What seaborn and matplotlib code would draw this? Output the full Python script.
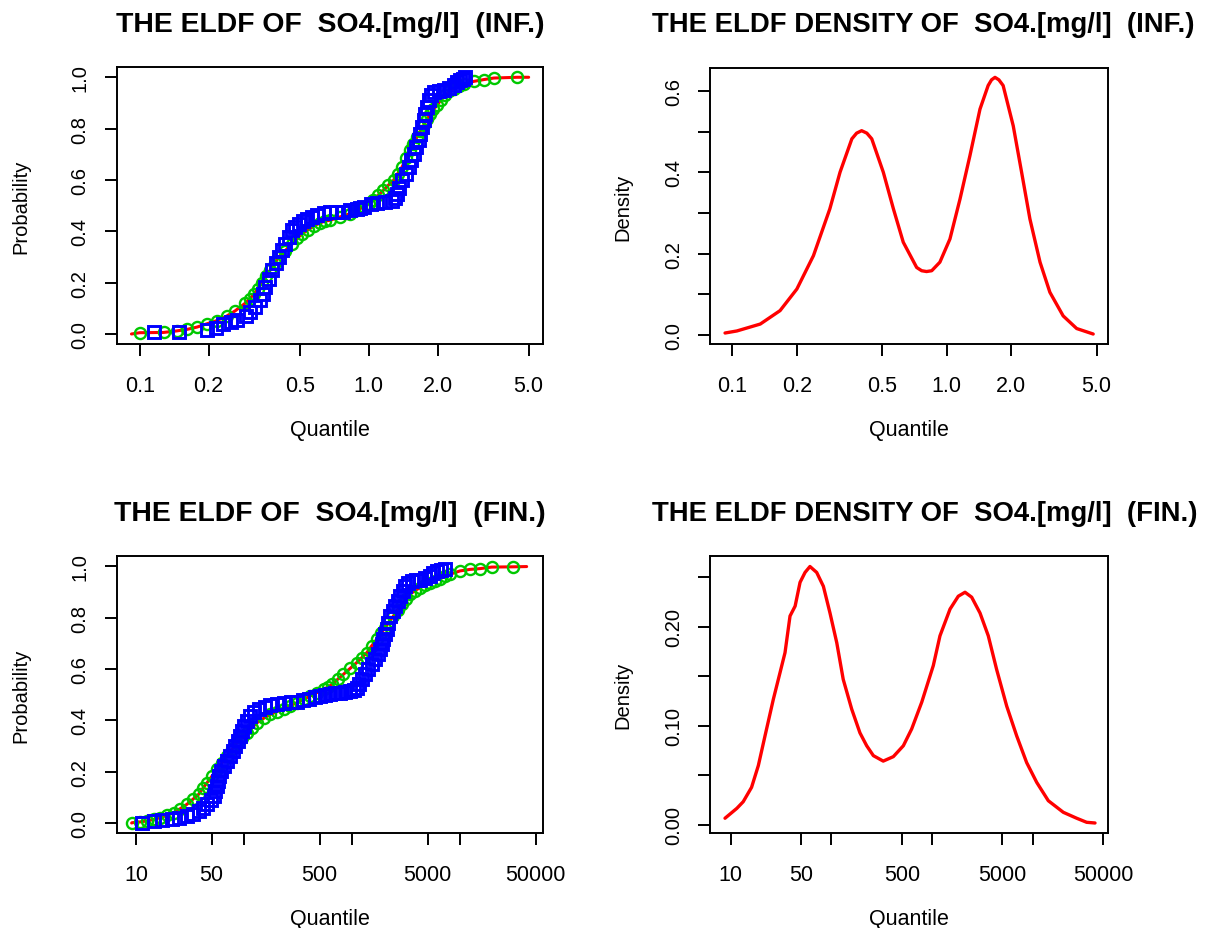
import matplotlib
matplotlib.use("Agg")
import matplotlib.pyplot as plt
from matplotlib.ticker import NullLocator, FixedLocator, FixedFormatter
import seaborn as sns
import pandas as pd

# ---------------- data ----------------
# INF: empirical points (blue squares)
inf_blue_q = [0.115, 0.148, 0.196, 0.215, 0.232, 0.250, 0.266, 0.290, 0.304, 0.320,
              0.336, 0.345, 0.354, 0.366, 0.379, 0.392, 0.405, 0.419, 0.433, 0.448,
              0.463, 0.478, 0.495, 0.515, 0.539, 0.565, 0.595, 0.640, 0.681, 0.720,
              0.776, 0.830, 0.889, 0.920, 0.951, 1.020, 1.087, 1.180, 1.265, 1.300,
              1.331, 1.360, 1.400, 1.450, 1.497, 1.535, 1.574, 1.615, 1.653, 1.682,
              1.711, 1.740, 1.770, 1.800, 1.829, 1.870, 1.924, 2.020, 2.128, 2.240,
              2.354, 2.440, 2.518, 2.580, 2.649]
inf_blue_p = [0.008, 0.008, 0.014, 0.025, 0.038, 0.047, 0.056, 0.070, 0.086, 0.105,
              0.131, 0.155, 0.183, 0.215, 0.248, 0.275, 0.300, 0.326, 0.352, 0.378,
              0.404, 0.418, 0.430, 0.440, 0.449, 0.455, 0.462, 0.470, 0.475, 0.476,
              0.475, 0.482, 0.488, 0.490, 0.495, 0.505, 0.511, 0.515, 0.517, 0.530,
              0.546, 0.570, 0.599, 0.625, 0.650, 0.676, 0.702, 0.729, 0.755, 0.780,
              0.806, 0.832, 0.858, 0.884, 0.910, 0.930, 0.943, 0.946, 0.949, 0.960,
              0.969, 0.980, 0.988, 0.994, 1.000]
# INF: fitted CDF points (green circles)
inf_green_q = [0.100, 0.127, 0.145, 0.161, 0.178, 0.197, 0.217, 0.240, 0.261, 0.289,
               0.302, 0.315, 0.328, 0.342, 0.357, 0.372, 0.388, 0.405, 0.432, 0.463,
               0.487, 0.512, 0.543, 0.575, 0.610, 0.647, 0.679, 0.750, 0.830, 0.890,
               0.951, 1.000, 1.049, 1.100, 1.161, 1.220, 1.285, 1.340, 1.400, 1.460,
               1.521, 1.570, 1.626, 1.680, 1.738, 1.800, 1.862, 1.920, 1.991, 2.070,
               2.163, 2.250, 2.355, 2.480, 2.606, 2.877, 3.184, 3.524, 4.457]
inf_green_p = [0.005, 0.006, 0.012, 0.018, 0.027, 0.040, 0.052, 0.070, 0.090, 0.120,
               0.137, 0.155, 0.177, 0.200, 0.225, 0.250, 0.275, 0.300, 0.325, 0.350,
               0.372, 0.390, 0.406, 0.420, 0.432, 0.440, 0.443, 0.456, 0.469, 0.482,
               0.495, 0.508, 0.521, 0.540, 0.560, 0.580, 0.599, 0.625, 0.651, 0.684,
               0.716, 0.742, 0.767, 0.790, 0.813, 0.836, 0.858, 0.875, 0.891, 0.912,
               0.930, 0.945, 0.956, 0.967, 0.975, 0.984, 0.991, 0.997, 1.000]
inf_red_ends_q = [0.092, 5.0]
inf_red_ends_p = [0.0, 1.0]

# INF: density
inf_dens_q = [0.0925, 0.105, 0.135, 0.167, 0.200, 0.239, 0.285, 0.318, 0.361, 0.380,
              0.401, 0.424, 0.447, 0.506, 0.564, 0.627, 0.724, 0.764, 0.805, 0.851,
              0.929, 1.035, 1.153, 1.282, 1.429, 1.560, 1.618, 1.679, 1.750, 1.832,
              2.042, 2.234, 2.443, 2.723, 3.027, 3.491, 4.036, 4.819]
inf_dens = [0.005, 0.010, 0.027, 0.060, 0.113, 0.195, 0.310, 0.400, 0.482, 0.496,
            0.502, 0.496, 0.482, 0.400, 0.310, 0.228, 0.166, 0.158, 0.156, 0.158,
            0.179, 0.236, 0.334, 0.440, 0.555, 0.613, 0.627, 0.633, 0.627, 0.613,
            0.514, 0.400, 0.285, 0.179, 0.105, 0.047, 0.016, 0.0025]

# FIN: empirical points (blue squares)
fin_blue_q = [11.4, 14.8, 17.5, 21.5, 25.0, 29.6, 33.5, 38.0, 41.5, 45.4,
              49.0, 52.3, 54.0, 56.1, 57.0, 58.2, 61.0, 64.7, 69.0, 74.5,
              78.5, 83.0, 87.5, 92.3, 95.5, 99.1, 106, 114, 124, 136,
              155, 175, 200, 232, 270, 308, 350, 396, 450, 507,
              565, 624, 690, 771, 860, 955, 1030, 1101, 1160, 1224,
              1310, 1410, 1515, 1625, 1715, 1808, 1875, 1941, 2010, 2085,
              2160, 2238, 2360, 2489, 2625, 2768, 2920, 3079, 3300, 3550,
              3900, 4240, 4740, 5245, 5650, 6050, 6630, 7218]
fin_blue_p = [0.001, 0.008, 0.010, 0.014, 0.020, 0.027, 0.036, 0.047, 0.060, 0.073,
              0.089, 0.105, 0.125, 0.144, 0.163, 0.183, 0.202, 0.222, 0.241, 0.261,
              0.280, 0.300, 0.320, 0.339, 0.358, 0.378, 0.398, 0.417, 0.432, 0.443,
              0.451, 0.458, 0.462, 0.466, 0.470, 0.473, 0.478, 0.484, 0.490, 0.495,
              0.498, 0.501, 0.505, 0.508, 0.511, 0.514, 0.520, 0.527, 0.543, 0.560,
              0.580, 0.599, 0.618, 0.638, 0.657, 0.677, 0.697, 0.716, 0.735, 0.755,
              0.780, 0.806, 0.826, 0.845, 0.865, 0.884, 0.903, 0.923, 0.935, 0.943,
              0.945, 0.947, 0.955, 0.962, 0.972, 0.982, 0.987, 0.991]
# FIN: fitted CDF points (green circles)
fin_green_q = [9.18, 10.8, 12.6, 14.6, 16.8, 19.4, 22.3, 25.7, 29.6, 33.5,
               38.0, 41.5, 45.4, 50.5, 56.1, 62.5, 69.5, 77.3, 85.9, 95.5,
               106, 119, 132, 152, 175, 202, 232, 268, 308, 355,
               410, 473, 544, 597, 650, 735, 828, 955, 1101, 1225,
               1362, 1515, 1686, 1850, 2011, 2200, 2401, 2630, 2868, 3130,
               3426, 3800, 4240, 4720, 5245, 5830, 6490, 7220, 8030, 9930,
               12300, 15210, 19500, 30900]
fin_green_p = [0.001, 0.004, 0.008, 0.014, 0.021, 0.030, 0.040, 0.056, 0.073, 0.092,
               0.112, 0.135, 0.157, 0.183, 0.209, 0.235, 0.261, 0.287, 0.313, 0.333,
               0.352, 0.372, 0.391, 0.408, 0.423, 0.434, 0.445, 0.457, 0.469, 0.482,
               0.495, 0.508, 0.521, 0.530, 0.540, 0.560, 0.579, 0.602, 0.625, 0.644,
               0.663, 0.690, 0.716, 0.739, 0.761, 0.784, 0.806, 0.830, 0.852, 0.872,
               0.891, 0.905, 0.917, 0.927, 0.936, 0.944, 0.952, 0.961, 0.969, 0.982,
               0.988, 0.991, 0.997, 0.998]
fin_red_ends_q = [9.1, 41100]
fin_red_ends_p = [0.0, 0.999]

# FIN: density
fin_dens_q = [8.77, 11.5, 13.3, 16.1, 18.8, 21.9, 26.5, 30.9, 34.6, 38.8,
              43.6, 48.8, 54.7, 61.2, 71.4, 83.2, 96.8, 113, 131, 159,
              192, 224, 261, 327, 412, 518, 627, 789, 1028, 1197,
              1507, 1820, 2123, 2472, 2992, 3614, 4375, 5508, 6918, 8690,
              10940, 14260, 20090, 27290, 34280, 41500]
fin_dens = [0.0068, 0.0168, 0.0235, 0.038, 0.060, 0.090, 0.127, 0.154, 0.174, 0.211,
            0.221, 0.245, 0.255, 0.261, 0.255, 0.241, 0.214, 0.184, 0.147, 0.117,
            0.093, 0.080, 0.070, 0.0645, 0.069, 0.080, 0.097, 0.124, 0.161, 0.191,
            0.218, 0.231, 0.235, 0.230, 0.214, 0.191, 0.157, 0.120, 0.090, 0.063,
            0.043, 0.0245, 0.0128, 0.0068, 0.0027, 0.002]

# tick labels
inf_xticks = [0.1, 0.2, 0.5, 1.0, 2.0, 5.0]
inf_xlabels = ["0.1", "0.2", "0.5", "1.0", "2.0", "5.0"]
fin_xticks = [10, 50, 100, 500, 1000, 5000, 10000, 50000]
fin_xlabels = ["10", "50", "", "500", "", "5000", "", "50000"]
prob_ticks = [0.0, 0.2, 0.4, 0.6, 0.8, 1.0]
prob_labels = ["0.0", "0.2", "0.4", "0.6", "0.8", "1.0"]
inf_dticks = [0.0, 0.1, 0.2, 0.3, 0.4, 0.5, 0.6]
inf_dlabels = ["0.0", "", "0.2", "", "0.4", "", "0.6"]
fin_dticks = [0.0, 0.05, 0.10, 0.15, 0.20, 0.25]
fin_dlabels = ["0.00", "", "0.10", "", "0.20", ""]

titles = ["THE ELDF OF  SO4.[mg/l]  (INF.)",
          "THE ELDF DENSITY OF  SO4.[mg/l]  (INF.)",
          "THE ELDF OF  SO4.[mg/l]  (FIN.)",
          "THE ELDF DENSITY OF  SO4.[mg/l]  (FIN.)"]

# ---------------- style ----------------
sns.set_theme(style="white")
plt.rcParams["font.family"] = ["Liberation Sans", "DejaVu Sans"]
plt.rcParams["axes.linewidth"] = 1.4
for key in ["text.color", "axes.labelcolor", "xtick.color", "ytick.color", "axes.edgecolor"]:
    plt.rcParams[key] = "black"

RED = "#FF0000"
GREEN = "#00C800"
BLUE = "#0000FF"

W, H = 1210, 929
fig = plt.figure(figsize=(W / 100, H / 100), dpi=100)
fig.patch.set_facecolor("white")


def add_axes(left, top, right, bottom):
    return fig.add_axes([left / W, 1 - bottom / H, (right - left) / W, (bottom - top) / H])


ax_tl = add_axes(116.7, 68, 543.3, 345)
ax_tr = add_axes(710, 69, 1108, 345)
ax_bl = add_axes(116.7, 557.3, 543.3, 834)
ax_br = add_axes(710, 557.3, 1108, 834)


def cdf_panel(ax, gq, gp, bq, bp, rq, rp):
    red_q = [rq[0]] + list(gq) + [rq[1]]
    red_p = [rp[0]] + list(gp) + [rp[1]]
    sns.lineplot(x=red_q, y=red_p, ax=ax, sort=False, estimator=None,
                 color=RED, linewidth=2.2, zorder=1)
    sns.lineplot(x=gq, y=gp, ax=ax, sort=False, estimator=None, linestyle="none",
                 marker="o", markersize=8.0, markerfacecolor="none",
                 markeredgecolor=GREEN, markeredgewidth=1.7, zorder=2)
    sns.lineplot(x=bq, y=bp, ax=ax, sort=False, estimator=None, linestyle="none",
                 marker="s", markersize=9.0, markerfacecolor="none",
                 markeredgecolor=BLUE, markeredgewidth=2.1, zorder=3)


def dens_panel(ax, q, d):
    sns.lineplot(x=q, y=d, ax=ax, sort=False, estimator=None, color=RED, linewidth=2.4)


cdf_panel(ax_tl, inf_green_q, inf_green_p, inf_blue_q, inf_blue_p, inf_red_ends_q, inf_red_ends_p)
cdf_panel(ax_bl, fin_green_q, fin_green_p, fin_blue_q, fin_blue_p, fin_red_ends_q, fin_red_ends_p)
dens_panel(ax_tr, inf_dens_q, inf_dens)
dens_panel(ax_br, fin_dens_q, fin_dens)

limits = {
    ax_tl: ((10 ** -1.1007, 10 ** 0.763), (-0.039, 1.040)),
    ax_tr: ((10 ** -1.104, 10 ** 0.752), (-0.022, 0.656)),
    ax_bl: ((10 ** 0.821, 10 ** 4.768), (-0.039, 1.039)),
    ax_br: ((10 ** 0.794, 10 ** 4.747), (-0.0081, 0.2713)),
}
ticks = {
    ax_tl: (inf_xticks, inf_xlabels, prob_ticks, prob_labels, "Probability", 29),
    ax_tr: (inf_xticks, inf_xlabels, inf_dticks, inf_dlabels, "Density", 22.5),
    ax_bl: (fin_xticks, fin_xlabels, prob_ticks, prob_labels, "Probability", 29),
    ax_br: (fin_xticks, fin_xlabels, fin_dticks, fin_dlabels, "Density", 22.5),
}

for ax, (xl, yl) in limits.items():
    ax.set_xscale("log")
    ax.set_xlim(*xl)
    ax.set_ylim(*yl)
    xt, xlab, yt, ylab, yname, ypad = ticks[ax]
    ax.xaxis.set_major_locator(FixedLocator(xt))
    ax.xaxis.set_major_formatter(FixedFormatter(xlab))
    ax.xaxis.set_minor_locator(NullLocator())
    ax.yaxis.set_major_locator(FixedLocator(yt))
    ax.yaxis.set_major_formatter(FixedFormatter(ylab))
    ax.yaxis.set_minor_locator(NullLocator())
    ax.tick_params(axis="both", which="major", direction="out", length=8.5, width=1.4,
                   color="black", labelcolor="black",
                   bottom=True, left=True, top=False, right=False)
    ax.tick_params(axis="x", labelsize=15.5, pad=13.5)
    ax.tick_params(axis="y", labelsize=14.5, pad=11, labelrotation=90)
    for lbl in ax.get_yticklabels():
        lbl.set_verticalalignment("center")
    ax.set_xlabel("Quantile", fontsize=15.5, labelpad=17, color="black")
    ax.set_ylabel(yname, fontsize=14.5, labelpad=ypad, color="black")
    for sp in ax.spines.values():
        sp.set_color("black")
        sp.set_linewidth(1.4)
    ax.grid(False)

# titles: left ones centred on their panel, right ones start at a fixed x
for i, t in enumerate(titles):
    cy = 25 if i < 2 else 514
    if i % 2 == 0:
        fig.text(330 / W, 1 - cy / H, t, ha="center", va="center",
                 fontsize=20.4, fontweight="bold", color="black")
    else:
        fig.text(652 / W, 1 - cy / H, t, ha="left", va="center",
                 fontsize=19.8, fontweight="bold", color="black")

fig.savefig("out.png", dpi=100, facecolor="white")
